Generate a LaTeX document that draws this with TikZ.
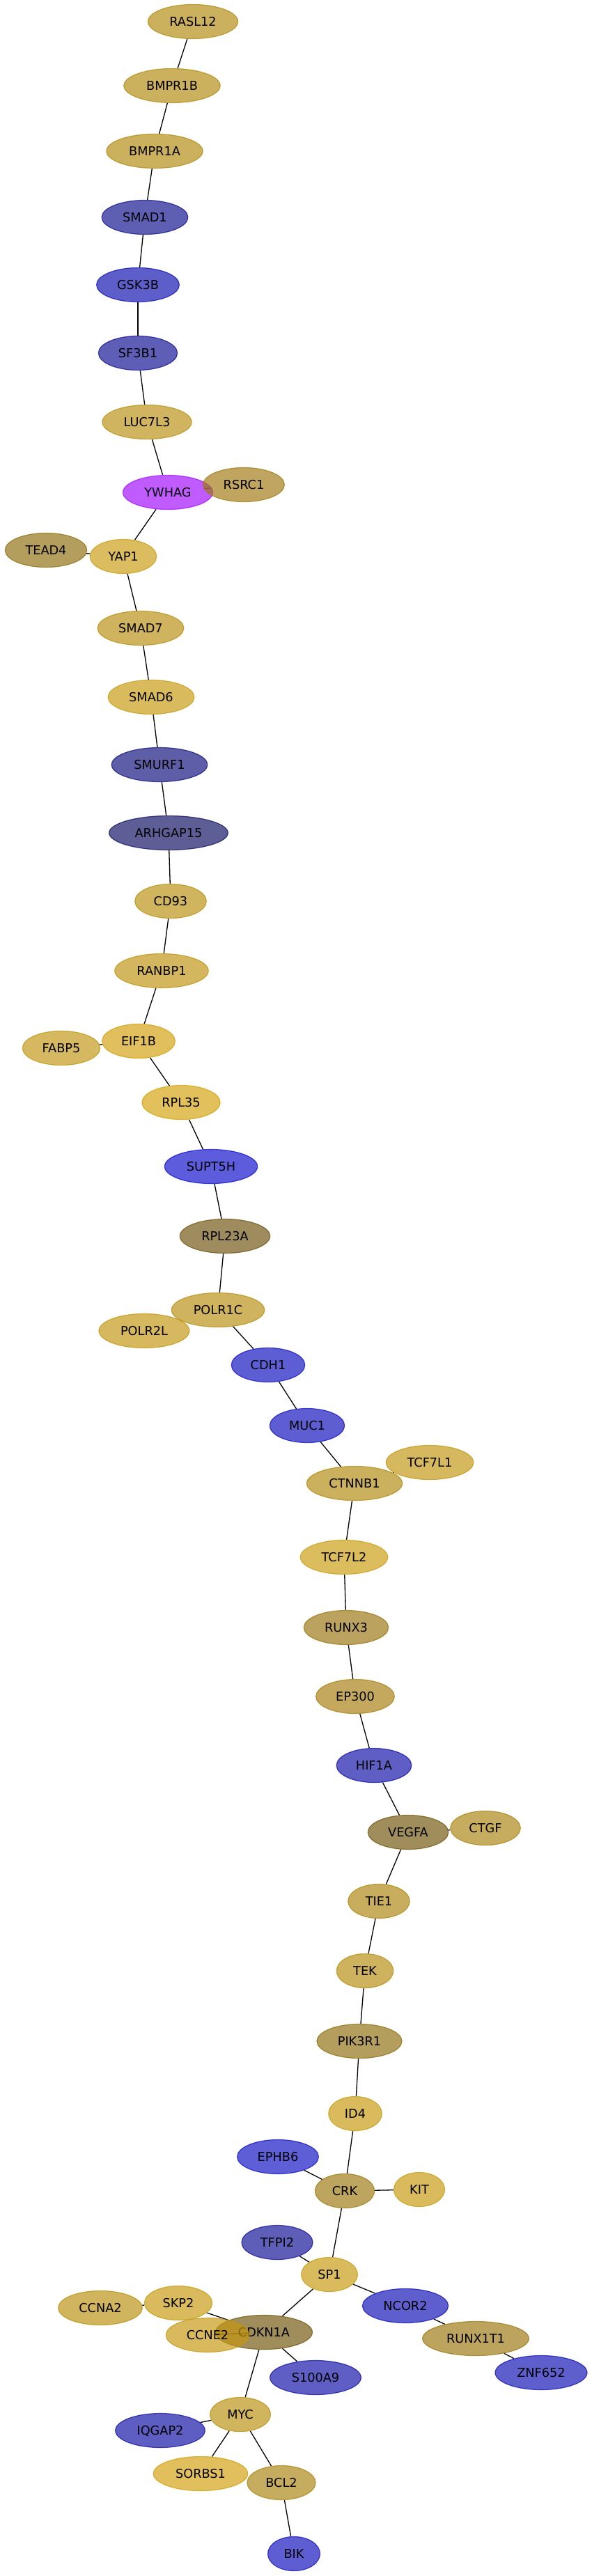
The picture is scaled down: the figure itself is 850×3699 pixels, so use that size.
\documentclass[tikz,border=0pt]{standalone}
\usepackage{fontspec}
\usetikzlibrary{shapes.geometric}
\newfontfamily\nodefont{DejaVu Sans}
\pgfdeclarelayer{bg}
\pgfsetlayers{bg,main}
\tikzset{
  gn/.style={ellipse, fill=#1, draw=#1, fill opacity=0.67, draw opacity=0.75, text opacity=1,
    line width=1.2pt, inner xsep=12pt, minimum height=49pt, text height=13pt, text depth=0pt,
    font=\nodefont\fontsize{17.7pt}{21pt}\selectfont, text=black},
  edge/.style={draw=black, line width=1.3pt}
}
\newcommand\gene[6]{%
  \pgfmathsetmacro\gcr{min(1,max(0,(#4-84.15)/170.85))}%
  \pgfmathsetmacro\gcg{min(1,max(0,(#5-84.15)/170.85))}%
  \pgfmathsetmacro\gcb{min(1,max(0,(#6-84.15)/170.85))}%
  \edef\gctmp{\noexpand\definecolor{c#1}{rgb}{\gcr,\gcg,\gcb}}\gctmp
  \node[gn=c#1] (#1) at (#2,#3) {#1};}
\begin{document}
\begin{tikzpicture}[x=1pt,y=-1pt]
\useasboundingbox (0,0) rectangle (850,3699);
\gene{RASL12}{277}{31}{203}{176}{94}
\gene{BMPR1B}{247}{123}{203}{176}{94}
\gene{BMPR1A}{222}{217}{203}{176}{94}
\gene{SMAD1}{208}{312}{94}{94}{178}
\gene{GSK3B}{198}{409}{94}{94}{202}
\gene{SF3B1}{198}{507}{94}{94}{182}
\gene{LUC7L3}{211}{606}{208}{180}{96}
\gene{YWHAG}{241}{707}{192}{92}{255}
\gene{RSRC1}{350}{696}{191}{165}{95}
\gene{TEAD4}{66}{790}{180}{158}{94}
\gene{YAP1}{177}{799}{219}{188}{94}
\gene{SMAD7}{202}{902}{207}{179}{94}
\gene{SMAD6}{217}{1001}{217}{187}{94}
\gene{SMURF1}{229}{1098}{94}{94}{168}
\gene{ARHGAP15}{242}{1196}{94}{94}{150}
\gene{CD93}{245}{1294}{208}{180}{94}
\gene{RANBP1}{232}{1394}{212}{182}{94}
\gene{EIF1B}{199}{1495}{225}{191}{92}
\gene{FABP5}{88}{1505}{213}{184}{96}
\gene{RPL35}{260}{1583}{226}{192}{92}
\gene{SUPT5H}{303}{1675}{92}{92}{220}
\gene{RPL23A}{323}{1775}{158}{140}{94}
\gene{POLR2L}{207}{1911}{214}{184}{94}
\gene{POLR1C}{313}{1881}{207}{179}{94}
\gene{CDH1}{385}{1960}{94}{94}{212}
\gene{MUC1}{441}{2047}{94}{94}{210}
\gene{CTNNB1}{509}{2130}{203}{176}{94}
\gene{TCF7L1}{617}{2100}{214}{184}{94}
\gene{TCF7L2}{494}{2236}{220}{189}{94}
\gene{RUNX3}{497}{2337}{187}{162}{94}
\gene{EP300}{510}{2436}{196}{168}{94}
\gene{HIF1A}{537}{2535}{94}{94}{196}
\gene{VEGFA}{586}{2631}{160}{141}{92}
\gene{CTGF}{697}{2625}{198}{172}{94}
\gene{TIE1}{544}{2730}{201}{173}{94}
\gene{TEK}{524}{2830}{206}{178}{94}
\gene{PIK3R1}{516}{2931}{180}{158}{94}
\gene{ID4}{510}{3035}{217}{187}{94}
\gene{EPHB6}{399}{3097}{94}{94}{214}
\gene{CRK}{495}{3146}{189}{165}{95}
\gene{KIT}{602}{3144}{217}{187}{94}
\gene{TFPI2}{398}{3220}{94}{94}{184}
\gene{SP1}{473}{3266}{217}{187}{94}
\gene{NCOR2}{582}{3311}{94}{94}{206}
\gene{SKP2}{256}{3307}{217}{187}{94}
\gene{CCNA2}{144}{3314}{208}{180}{94}
\gene{CDKN1A}{379}{3349}{160}{141}{92}
\gene{CCNE2}{298}{3353}{216}{185}{94}
\gene{RUNX1T1}{683}{3358}{188}{163}{94}
\gene{S100A9}{453}{3414}{94}{94}{196}
\gene{ZNF652}{777}{3407}{94}{94}{204}
\gene{MYC}{345}{3467}{208}{180}{94}
\gene{IQGAP2}{230}{3490}{94}{94}{194}
\gene{SORBS1}{288}{3552}{224}{191}{92}
\gene{BCL2}{404}{3565}{198}{172}{94}
\gene{BIK}{422}{3667}{94}{94}{210}
\begin{pgfonlayer}{bg}
\foreach \a/\b in {RASL12/BMPR1B, BMPR1B/BMPR1A, BMPR1A/SMAD1, SMAD1/GSK3B, GSK3B/SF3B1,
  SF3B1/LUC7L3, LUC7L3/YWHAG, YWHAG/RSRC1, YWHAG/YAP1, TEAD4/YAP1, YAP1/SMAD7, SMAD7/SMAD6,
  SMAD6/SMURF1, SMURF1/ARHGAP15, ARHGAP15/CD93, CD93/RANBP1, RANBP1/EIF1B, FABP5/EIF1B,
  EIF1B/RPL35, RPL35/SUPT5H, SUPT5H/RPL23A, RPL23A/POLR1C, POLR1C/POLR2L, POLR1C/CDH1,
  CDH1/MUC1, MUC1/CTNNB1, CTNNB1/TCF7L1, CTNNB1/TCF7L2, TCF7L2/RUNX3, RUNX3/EP300,
  EP300/HIF1A, HIF1A/VEGFA, VEGFA/CTGF, VEGFA/TIE1, TIE1/TEK, TEK/PIK3R1, PIK3R1/ID4,
  ID4/CRK, EPHB6/CRK, CRK/KIT, CRK/SP1, TFPI2/SP1, SP1/CDKN1A, SP1/NCOR2, NCOR2/RUNX1T1,
  RUNX1T1/ZNF652, CCNA2/SKP2, SKP2/CDKN1A, CCNE2/CDKN1A, CDKN1A/S100A9, CDKN1A/MYC,
  MYC/IQGAP2, MYC/SORBS1, MYC/BCL2, BCL2/BIK}
  \draw[edge] (\a) -- (\b);
\end{pgfonlayer}
\end{tikzpicture}
\end{document}
